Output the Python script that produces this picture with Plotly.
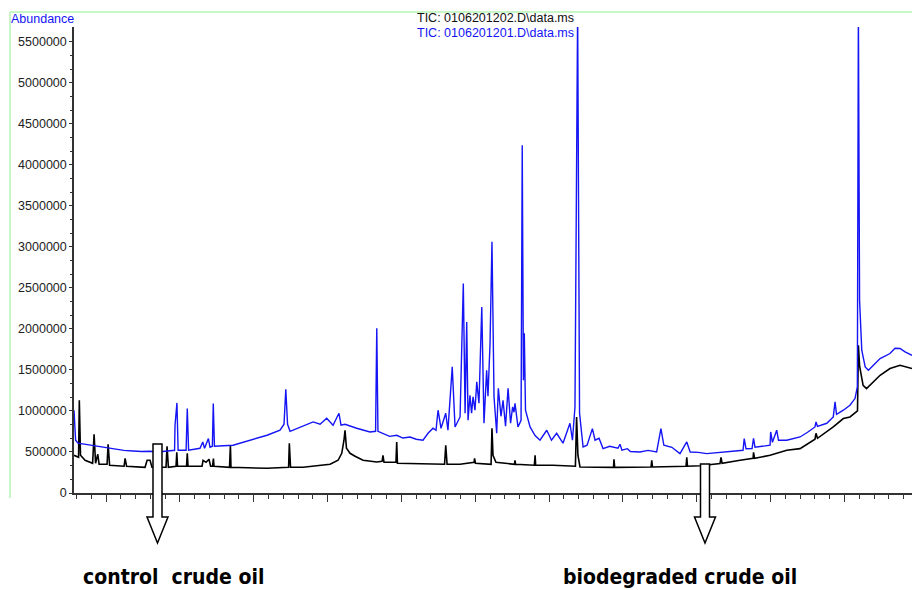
import plotly.graph_objects as go

# ---------------- data ----------------
# retention time (min) and abundance for trace TIC: 0106201202 (black)
black_t = [7.83, 8.14, 8.19, 8.27, 8.58, 9.09, 9.19, 9.29, 9.44, 9.53, 10.07, 10.14, 10.24,
           11.22, 11.29, 11.39, 12.64, 12.78, 12.98, 13.11, 14.06, 14.13, 14.22, 14.74, 14.79,
           14.84, 15.45, 15.50, 15.55, 16.50, 16.57, 16.77, 16.97, 17.08, 17.21, 17.27, 17.31,
           18.36, 18.42, 18.46, 20.90, 22.36, 22.41, 22.49, 23.34, 24.49, 25.17, 25.71, 25.96,
           26.11, 26.18, 26.28, 26.52, 26.86, 27.40, 28.33, 28.69, 28.75, 28.82, 29.63, 29.68,
           29.73, 31.26, 32.92, 33.00, 33.09, 33.97, 34.92, 34.95, 35.02, 36.07, 36.13, 36.20,
           36.40, 37.65, 37.69, 37.73, 39.00, 39.05, 39.09, 40.26, 41.78, 41.86, 41.95, 42.09,
           44.36, 44.39, 44.44, 46.90, 46.95, 47.00, 49.27, 49.32, 49.37, 50.22, 51.57, 51.64,
           51.71, 52.93, 53.81, 53.84, 53.91, 54.96, 56.09, 56.99, 58.00, 58.07, 58.17, 59.24,
           59.92, 60.37, 60.82, 60.88, 60.94, 61.02, 61.17, 61.26, 61.49, 61.85, 62.41, 63.08,
           63.76, 64.57]
black_y = [460000, 435000, 1130000, 460000, 399000, 362000, 716000, 362000, 472000, 350000,
           350000, 594000, 338000, 326000, 423000, 326000, 313000, 399000, 399000, 313000,
           313000, 570000, 313000, 326000, 496000, 326000, 326000, 484000, 326000, 326000,
           399000, 374000, 411000, 326000, 326000, 420000, 326000, 313000, 582000, 313000,
           301000, 313000, 606000, 313000, 313000, 338000, 350000, 399000, 484000, 643000,
           765000, 545000, 484000, 448000, 399000, 378000, 387000, 460000, 374000, 374000,
           622000, 362000, 359000, 350000, 582000, 350000, 350000, 374000, 423000, 362000,
           350000, 789000, 460000, 374000, 350000, 399000, 350000, 338000, 460000, 338000,
           338000, 326000, 927000, 460000, 317000, 313000, 411000, 313000, 317000, 399000,
           317000, 326000, 435000, 326000, 332000, 359000, 435000, 362000, 399000, 423000,
           496000, 423000, 460000, 521000, 541000, 655000, 728000, 667000, 805000, 907000,
           927000, 988000, 1000000, 1800000, 1550000, 1400000, 1313000, 1273000, 1338000,
           1435000, 1517000, 1557000, 1517000]

# retention time (min) and abundance for trace TIC: 0106201201 (blue)
blue_t = [7.83, 7.94, 8.10, 8.50, 8.92, 9.25, 9.59, 10.10, 10.61, 11.20, 11.83, 12.40, 12.98,
          13.50, 14.00, 14.64, 14.67, 14.80, 14.88,
          15.42, 15.50, 15.59, 16.36, 16.55, 16.67, 16.93, 17.04, 17.20, 17.26, 17.34, 18.60,
          19.75, 20.90, 21.78, 22.05, 22.17, 22.29, 22.46, 23.14, 24.02, 24.49, 24.94, 25.37,
          25.77, 25.91, 26.18, 26.97, 27.87, 28.25, 28.33, 28.41, 28.75, 29.20, 29.68, 30.10,
          30.58, 31.00, 31.46,
          31.80, 32.14, 32.34, 32.48, 32.68, 33.00, 33.15, 33.44, 33.63, 33.97, 34.19, 34.31,
          34.42, 34.51, 34.64, 34.75, 34.85, 34.98, 35.10, 35.25, 35.44, 35.59, 35.77, 35.86,
          36.00, 36.13, 36.27, 36.45, 36.56, 36.74, 36.88, 37.05, 37.22, 37.39, 37.53, 37.62,
          37.69, 37.89, 38.10, 38.18, 38.26, 38.32, 38.40, 38.71, 39.05, 39.38, 39.84, 40.16,
          40.51, 40.94, 41.41, 41.58, 41.75, 41.93, 42.06, 42.30, 42.57, 42.93, 43.11, 43.38,
          43.65, 44.10, 44.66, 44.80, 44.93, 45.30, 45.50, 46.15, 46.70, 47.28, 47.57, 47.77,
          48.31, 48.86, 49.32, 49.55, 50.10, 50.67, 51.30, 52.03, 52.60, 53.13, 53.21, 53.33,
          53.74, 53.84, 53.94, 54.50, 54.96, 55.00, 55.12, 55.41, 55.53, 56.09, 56.50, 56.99,
          57.50, 58.00, 58.07, 58.17, 58.80, 59.24, 59.36, 59.46, 59.92, 60.37, 60.71,
          60.87, 60.94, 61.02, 61.17, 61.40, 61.62, 61.95, 62.41, 63.08, 63.42, 63.76, 64.10,
          64.57]
blue_y = [1008000, 643000, 607000, 595000, 582000, 570000, 561000, 548000, 533000, 520000,
          512000, 505000, 509000, 500000, 509000, 521000,
          826000, 1098000, 521000, 521000, 1029000, 521000, 545000, 622000, 545000, 663000,
          557000, 570000, 1090000, 570000, 582000, 643000, 704000, 765000, 838000, 1265000,
          838000, 752000, 805000, 866000, 838000, 911000, 826000, 972000, 826000, 838000,
          789000, 744000, 752000, 2009000, 752000, 728000, 690000, 704000, 670000, 683000,
          655000, 643000, 728000,
          789000, 765000, 1009000, 789000, 972000, 765000, 1537000, 805000, 927000, 2554000,
          972000, 2085000, 887000, 1191000, 972000, 1171000, 1009000, 1354000, 1094000,
          2268000, 850000, 1496000, 1179000, 1826000, 3061000, 1171000, 728000, 1277000,
          935000, 1130000, 813000, 1277000, 850000, 1049000, 984000, 1094000, 805000, 887000,
          4240000, 1374000, 1948000, 1009000, 805000, 700000, 643000, 765000, 643000, 728000,
          607000, 850000, 643000, 1049000, 5900000, 972000, 561000, 582000, 785000, 643000,
          667000, 541000, 570000, 545000, 594000, 521000, 540000, 505000, 500000, 520000,
          500000, 785000, 582000, 557000, 480000, 622000, 500000, 495000, 480000, 490000,
          500000, 510000, 521000, 663000, 539000, 541000, 667000, 557000, 570000, 582000,
          744000, 618000, 765000, 643000, 643000, 660000, 683000, 740000, 805000, 866000,
          813000, 850000, 927000, 1110000, 960000, 1009000, 1070000, 1151000, 1293000,
          5900000, 2350000, 1740000, 1537000, 1496000, 1557000, 1639000, 1700000, 1765000,
          1761000, 1720000, 1679000]

y_tick_vals = [0, 500000, 1000000, 1500000, 2000000, 2500000, 3000000, 3500000,
               4000000, 4500000, 5000000, 5500000]
y_tick_text = ["0", "500000", "1000000", "1500000", "2000000", "2500000", "3000000",
               "3500000", "4000000", "4500000", "5000000", "5500000"]

legend_names = ["TIC: 0106201202.D\\data.ms", "TIC: 0106201201.D\\data.ms"]
y_title = "Abundance"
bottom_labels = ["control\u00a0\u00a0crude oil", "biodegraded crude oil"]

# ---------------- layout geometry (pixels) ----------------
W, H = 912, 590
L, R, T, B = 74, 0, 27, 97
PW, PH = W - L - R, H - T - B


def px(x):
    return (x - L) / PW


def py(y):
    return (H - B - y) / PH


BLUE = "#1414f5"
fig = go.Figure()
fig.add_trace(go.Scatter(x=black_t, y=black_y, mode="lines", name=legend_names[0],
                         line=dict(color="#000000", width=1.6)))
fig.add_trace(go.Scatter(x=blue_t, y=blue_y, mode="lines", name=legend_names[1],
                         line=dict(color=BLUE, width=1.4)))

axis_col = "#333333"
fig.update_layout(
    width=W, height=H, margin=dict(l=L, r=R, t=T, b=B),
    paper_bgcolor="white", plot_bgcolor="white", showlegend=False,
    font=dict(family="Arial, Liberation Sans, sans-serif", size=12.5, color="#222"),
    xaxis=dict(range=[7.83, 64.57], showline=True, linecolor=axis_col, linewidth=1.5,
               ticks="outside", tick0=0, dtick=5, ticklen=7, tickwidth=1.3, tickcolor=axis_col,
               showticklabels=False, showgrid=False, zeroline=False,
               minor=dict(dtick=1, ticks="outside", ticklen=4, tickwidth=1, tickcolor=axis_col)),
    yaxis=dict(range=[0, 5680000], showline=True, linecolor=axis_col, linewidth=1.5,
               tickvals=y_tick_vals, ticktext=y_tick_text, ticks="outside", ticklen=3,
               tickwidth=1, tickcolor=axis_col, showgrid=False, zeroline=False,
               tickfont=dict(size=12.5, color="#222"),
               minor=dict(tickvals=[v + d for v in y_tick_vals[:-1] for d in (500000 / 3, 1000000 / 3)],
                          ticks="outside", ticklen=2, tickwidth=1, tickcolor=axis_col)),
)

green = "#b4f5b4"
shapes = [
    dict(type="line", xref="paper", yref="paper", x0=px(10), x1=px(915), y0=py(12), y1=py(12),
         line=dict(color=green, width=1.5)),
    dict(type="line", xref="paper", yref="paper", x0=px(10), x1=px(10), y0=py(12), y1=py(498),
         line=dict(color=green, width=1.5)),
]


def arrow(cx, top, half_shaft=4.5, half_head=10.5, head_top=517, tip=543):
    pts = [(cx - half_shaft, top), (cx + half_shaft, top), (cx + half_shaft, head_top),
           (cx + half_head, head_top), (cx, tip), (cx - half_head, head_top),
           (cx - half_shaft, head_top)]
    d = "M " + " L ".join(f"{px(a):.5f},{py(b):.5f}" for a, b in pts) + " Z"
    return dict(type="path", xref="paper", yref="paper", path=d, fillcolor="white",
                line=dict(color="black", width=1.5), layer="above")


shapes.append(arrow(157.5, 444))
shapes.append(arrow(705, 464))
fig.update_layout(shapes=shapes)

ann = [
    dict(text=y_title, x=px(9), y=py(19), xref="paper", yref="paper", xanchor="left",
         yanchor="middle", showarrow=False, font=dict(size=12.5, color=BLUE)),
    dict(text=legend_names[0], x=px(415), y=py(18), xref="paper", yref="paper", xanchor="left",
         yanchor="middle", showarrow=False, font=dict(size=12.5, color="#111")),
    dict(text=legend_names[1], x=px(415), y=py(33), xref="paper", yref="paper", xanchor="left",
         yanchor="middle", showarrow=False, font=dict(size=12.5, color=BLUE)),
]
label_font = dict(family="Liberation Sans Narrow, DejaVu Sans Condensed, Arial Narrow, sans-serif",
                  size=21, color="black", weight="bold")
ann.append(dict(text=bottom_labels[0], x=px(81), y=py(577), xref="paper", yref="paper",
                xanchor="left", yanchor="middle", showarrow=False, font=label_font))
ann.append(dict(text=bottom_labels[1], x=px(561), y=py(577), xref="paper", yref="paper",
                xanchor="left", yanchor="middle", showarrow=False, font=label_font))
fig.update_layout(annotations=ann)

fig.write_html("out.html", config={"displayModeBar": False})
